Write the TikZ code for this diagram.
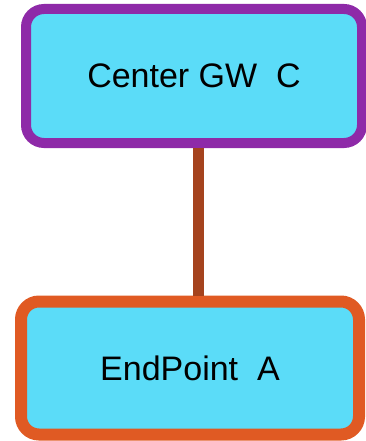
\documentclass[tikz,border=0pt]{standalone}
\usepackage{fontspec}
\setmainfont{Liberation Sans}
\definecolor{boxfill}{HTML}{5BDCF8}
\definecolor{purpleb}{HTML}{8E2AA8}
\definecolor{orangeb}{HTML}{E05A23}
\definecolor{linkc}{HTML}{A5431E}
\begin{document}
\begin{tikzpicture}[x=1pt,y=-1pt,
  gwbox/.style={draw, fill=boxfill, rounded corners=18pt, line width=10pt, minimum width=336pt, inner sep=0pt, font=\fontsize{34}{40}\selectfont},
  link/.style={draw=linkc, line width=11pt}]
\useasboundingbox (0,0) rectangle (366,441);
\node[gwbox, draw=purpleb, minimum height=134pt] (c) at (194,76) {Center GW\ \ C};
\node[gwbox, draw=orangeb, line width=12pt, minimum height=133pt, minimum width=338pt] (a) at (190,368) {EndPoint\ \ A};
\draw[link] (c.south -| 198,0) -- (a.north -| 198,0);
\end{tikzpicture}
\end{document}
